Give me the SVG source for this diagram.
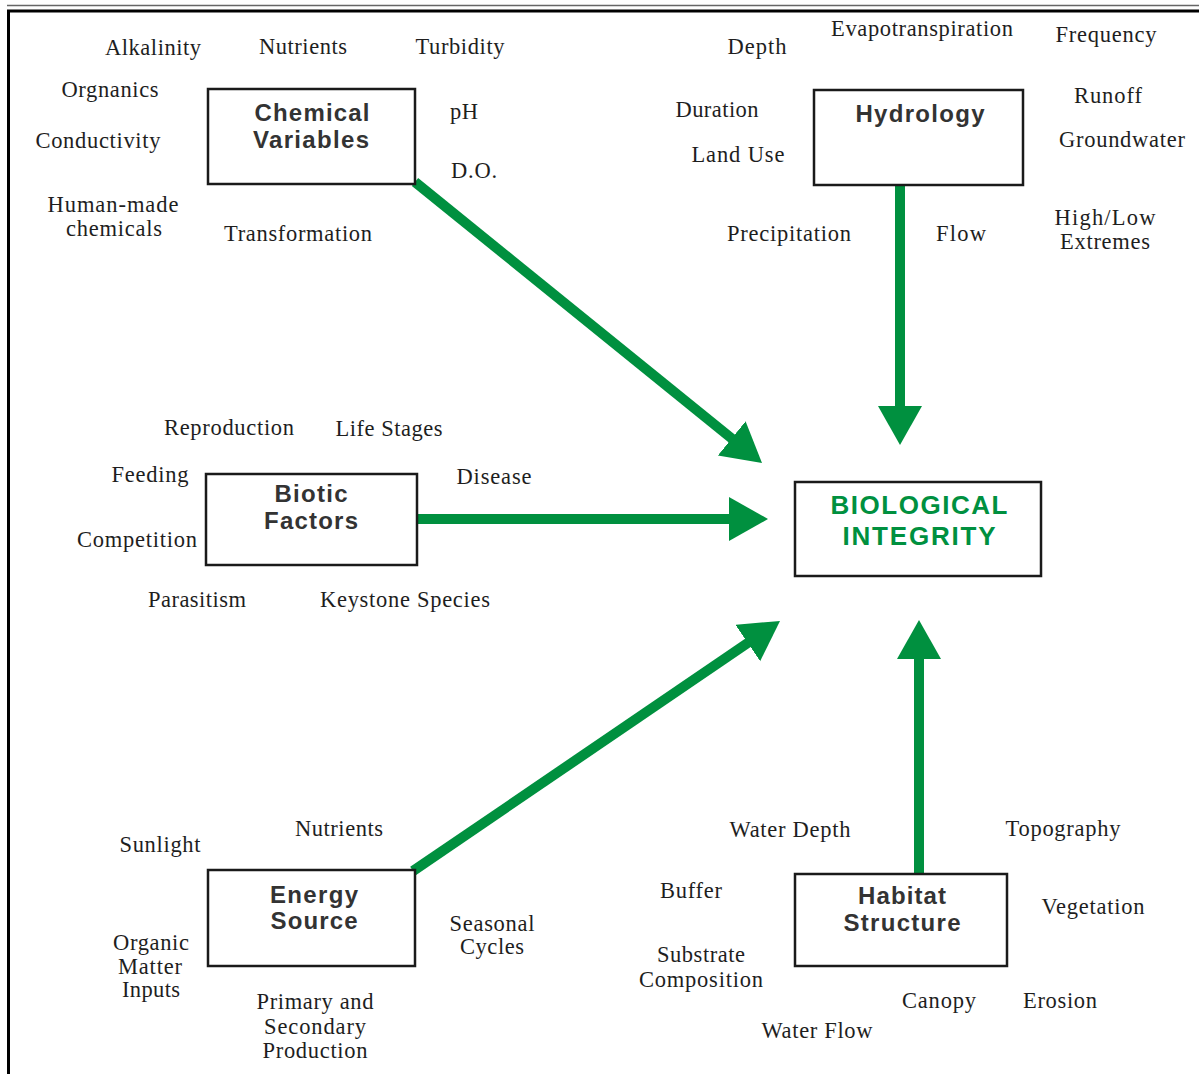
<svg xmlns="http://www.w3.org/2000/svg" width="1199" height="1074" viewBox="0 0 1199 1074">
  <style>
    .lbl { font-family: "Liberation Serif", "Times New Roman", serif; font-size: 22.5px; fill: #1e1e1e; text-anchor: middle; }
    .box { fill: #ffffff; stroke: #1a1a1a; stroke-width: 2.5; }
    .title { font-family: "Liberation Sans", Arial, sans-serif; font-weight: bold; font-size: 24px; fill: #333333; text-anchor: middle; }
    .bio { fill: #00903f; font-size: 26px; }
    .arrow { stroke: #00903f; stroke-width: 10; fill: none; marker-end: url(#head); }
  </style>
  <defs>
    <!-- arrowhead: the shaft stops at x=9, the tip sits 30px further on -->
    <marker id="head" markerUnits="userSpaceOnUse" markerWidth="40" markerHeight="46" refX="9" refY="22" orient="auto">
      <path d="M0,0 L39,22 L0,44 z" fill="#00903f"/>
    </marker>
  </defs>

  <rect width="1199" height="1074" fill="#ffffff"/>

  <!-- page rules -->
  <line x1="7" y1="5.5" x2="1199" y2="5.5" stroke="#666666" stroke-width="1.5"/>
  <line x1="7" y1="11" x2="1199" y2="11" stroke="#000000" stroke-width="3"/>
  <line x1="8.5" y1="10" x2="8.5" y2="1074" stroke="#000000" stroke-width="3"/>

  <!-- connectors -->
  <g id="connectors">
    <line class="arrow" x1="415" y1="182" x2="738.7" y2="444.1"/>
    <line class="arrow" x1="900" y1="185" x2="900" y2="415"/>
    <line class="arrow" x1="417" y1="519" x2="738" y2="519"/>
    <line class="arrow" x1="413" y1="871" x2="755.2" y2="637.9"/>
    <line class="arrow" x1="919" y1="873" x2="919" y2="650"/>
  </g>

  <!-- chemical variables -->
  <g id="chemical">
    <rect class="box" x="208" y="89" width="207" height="95"/>
    <text class="title" x="312" y="121" textLength="115">Chemical</text>
    <text class="title" x="311" y="148" textLength="116">Variables</text>
    <text class="lbl" x="153" y="55" textLength="96">Alkalinity</text>
    <text class="lbl" x="303" y="54" textLength="88">Nutrients</text>
    <text class="lbl" x="460" y="54" textLength="89">Turbidity</text>
    <text class="lbl" x="110" y="97" textLength="97">Orgnanics</text>
    <text class="lbl" x="98" y="148" textLength="125">Conductivity</text>
    <text class="lbl" x="113" y="212" textLength="131">Human-made</text>
    <text class="lbl" x="114" y="236" textLength="96">chemicals</text>
    <text class="lbl" x="298" y="241" textLength="148">Transformation</text>
    <text class="lbl" x="464" y="119" textLength="28">pH</text>
    <text class="lbl" x="474" y="178" textLength="46">D.O.</text>
  </g>

  <!-- hydrology -->
  <g id="hydrology">
    <rect class="box" x="814" y="90" width="209" height="95"/>
    <text class="title" x="920" y="122" textLength="129">Hydrology</text>
    <text class="lbl" x="757" y="54" textLength="59">Depth</text>
    <text class="lbl" x="922" y="36" textLength="182">Evapotranspiration</text>
    <text class="lbl" x="1106" y="42" textLength="101">Frequency</text>
    <text class="lbl" x="717" y="117" textLength="83">Duration</text>
    <text class="lbl" x="738" y="162" textLength="93">Land Use</text>
    <text class="lbl" x="1108" y="103" textLength="68">Runoff</text>
    <text class="lbl" x="1122" y="147" textLength="126">Groundwater</text>
    <text class="lbl" x="789" y="241" textLength="124">Precipitation</text>
    <text class="lbl" x="961" y="241" textLength="50">Flow</text>
    <text class="lbl" x="1105" y="225" textLength="101">High/Low</text>
    <text class="lbl" x="1105" y="249" textLength="90">Extremes</text>
  </g>

  <!-- biotic factors -->
  <g id="biotic">
    <rect class="box" x="206" y="474" width="211" height="91"/>
    <text class="title" x="311" y="502" textLength="73">Biotic</text>
    <text class="title" x="311" y="529" textLength="94">Factors</text>
    <text class="lbl" x="229" y="435" textLength="130">Reproduction</text>
    <text class="lbl" x="389" y="436" textLength="107">Life Stages</text>
    <text class="lbl" x="150" y="482" textLength="77">Feeding</text>
    <text class="lbl" x="494" y="484" textLength="75">Disease</text>
    <text class="lbl" x="137" y="547" textLength="120">Competition</text>
    <text class="lbl" x="197" y="607" textLength="98">Parasitism</text>
    <text class="lbl" x="405" y="607" textLength="170">Keystone Species</text>
  </g>

  <!-- biological integrity -->
  <g id="biological-integrity">
    <rect class="box" x="795" y="482" width="246" height="94"/>
    <text class="title bio" x="919" y="514" textLength="177">BIOLOGICAL</text>
    <text class="title bio" x="919" y="545" textLength="153">INTEGRITY</text>
  </g>

  <!-- energy source -->
  <g id="energy">
    <rect class="box" x="208" y="870" width="207" height="96"/>
    <text class="title" x="314" y="903" textLength="88">Energy</text>
    <text class="title" x="314" y="929" textLength="87">Source</text>
    <text class="lbl" x="160" y="852" textLength="81">Sunlight</text>
    <text class="lbl" x="339" y="836" textLength="88">Nutrients</text>
    <text class="lbl" x="492" y="931" textLength="85">Seasonal</text>
    <text class="lbl" x="492" y="954" textLength="64">Cycles</text>
    <text class="lbl" x="151" y="950" textLength="76">Organic</text>
    <text class="lbl" x="150" y="974" textLength="64">Matter</text>
    <text class="lbl" x="151" y="997" textLength="58">Inputs</text>
    <text class="lbl" x="315" y="1009" textLength="117">Primary and</text>
    <text class="lbl" x="315" y="1034" textLength="102">Secondary</text>
    <text class="lbl" x="315" y="1058" textLength="105">Production</text>
  </g>

  <!-- habitat structure -->
  <g id="habitat">
    <rect class="box" x="795" y="874" width="212" height="92"/>
    <text class="title" x="902" y="904" textLength="88">Habitat</text>
    <text class="title" x="902" y="931" textLength="117">Structure</text>
    <text class="lbl" x="790" y="837" textLength="121">Water Depth</text>
    <text class="lbl" x="1063" y="836" textLength="115">Topography</text>
    <text class="lbl" x="691" y="898" textLength="62">Buffer</text>
    <text class="lbl" x="1093" y="914" textLength="103">Vegetation</text>
    <text class="lbl" x="701" y="962" textLength="88">Substrate</text>
    <text class="lbl" x="701" y="987" textLength="124">Composition</text>
    <text class="lbl" x="939" y="1008" textLength="74">Canopy</text>
    <text class="lbl" x="1060" y="1008" textLength="74">Erosion</text>
    <text class="lbl" x="817" y="1038" textLength="111">Water Flow</text>
  </g>
</svg>
